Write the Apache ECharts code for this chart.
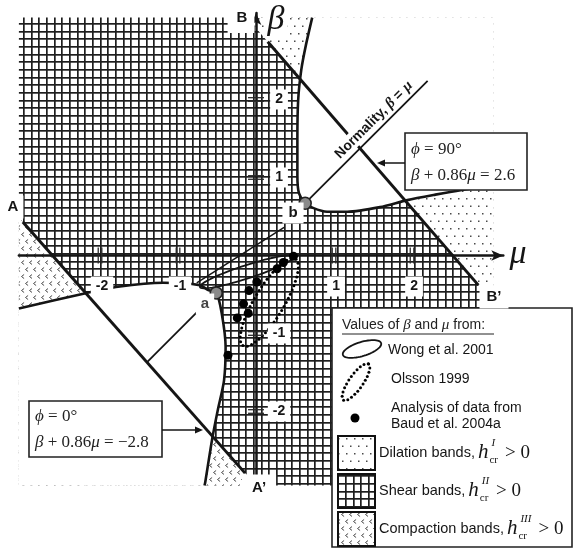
<!DOCTYPE html>
<html>
<head>
<meta charset="utf-8">
<title>Band regimes in the β–μ plane</title>
<script src="https://cdn.jsdelivr.net/npm/echarts/dist/echarts.min.js"></script>
<style>
  html, body { margin: 0; padding: 0; background: #fff; }
  #chart { width: 574px; height: 551px; }
</style>
</head>
<body>
<div id="chart"></div>
<script>
// ---------- values in the (mu, beta) plane ----------
const muAxisRange = [-3.04, 3.17];
const betaAxisRange = [-2.95, 3.11];
const fieldMu = [-3.04, 3.04];
const fieldBeta = [-2.95, 3.05];
const tickValues = [-2, -1, 1, 2];
const tickLabels = ['-2', '-1', '1', '2'];

// phi = 0 deg line (A-A') and phi = 90 deg line (B-B')
const lineAA = [[-2.99, 0.43], [-0.14, -2.79]];
const lineBB = [[0.15, 2.74], [2.85, -0.38]];

// curve through b: upper branch down to b, then right branch
const branchBMu   = [0.72, 0.64, 0.58, 0.54, 0.53, 0.53, 0.55, 0.63, 0.73, 0.91, 1.17, 1.59, 1.94, 2.30, 2.64, 3.04];
const branchBBeta = [3.05, 2.70, 2.38, 1.99, 1.48, 1.03, 0.80, 0.67, 0.61, 0.56, 0.56, 0.62, 0.71, 0.78, 0.84, 0.90];
// curve through a: left branch in to a, then lower branch
const branchAMu   = [-3.04, -2.17, -1.77, -1.19, -0.72, -0.62, -0.51, -0.44, -0.39, -0.41, -0.49, -0.56, -0.65, -0.66];
const branchABeta = [-0.68, -0.48, -0.40, -0.35, -0.38, -0.44, -0.48, -0.74, -1.17, -1.60, -1.98, -2.34, -2.90, -2.95];

const pointA = [-0.51, -0.48];
const pointB = [0.63, 0.67];

// normality directions from a and b, and the chord through the data cloud
const normalB = [[0.63, 0.67], [2.20, 2.24]];
const normalA = [[-0.51, -0.48], [-1.39, -1.36]];
const chordLine = [[-0.76, -0.35], [0.36, 0.36]];

// Baud et al. 2004a
const baudMu   = [0.48, 0.35, 0.27, 0.01, -0.09, -0.16, -0.10, -0.24, -0.36];
const baudBeta = [-0.01, -0.09, -0.17, -0.34, -0.45, -0.62, -0.74, -0.80, -1.28];

// Wong et al. 2001 (solid) and Olsson 1999 (dotted) ranges: centre, semi-axes, tilt (deg)
const wongCentre = [-0.12, -0.21], wongAxes = [0.63, 0.085], wongTilt = 18;
const olssonCentre = [0.17, -0.60], olssonAxes = [0.65, 0.19], olssonTilt = 59;

// ---------- helpers ----------
const SANS = '"Liberation Sans", Arial, sans-serif';
const SERIF = '"Liberation Serif", "Times New Roman", serif';
const INK = '#151515';

const zip = (a, b) => a.map((v, i) => [v, b[i]]);

function clipHalf(poly, p, q, keep) {
  const side = pt => ((q[0] - p[0]) * (pt[1] - p[1]) - (q[1] - p[1]) * (pt[0] - p[0])) * keep;
  const out = [];
  for (let i = 0; i < poly.length; i++) {
    const a = poly[i], b = poly[(i + 1) % poly.length];
    const sa = side(a), sb = side(b);
    if (sa >= 0) out.push(a);
    if ((sa >= 0) !== (sb >= 0)) {
      const t = sa / (sa - sb);
      out.push([a[0] + t * (b[0] - a[0]), a[1] + t * (b[1] - a[1])]);
    }
  }
  return out;
}

function ellipseOutline(c, ax, tiltDeg, n) {
  const t = tiltDeg * Math.PI / 180, pts = [];
  for (let k = 0; k < n; k++) {
    const th = 2 * Math.PI * k / n;
    const x = ax[0] * Math.cos(th), y = ax[1] * Math.sin(th);
    pts.push([c[0] + x * Math.cos(t) - y * Math.sin(t), c[1] + x * Math.sin(t) + y * Math.cos(t)]);
  }
  return pts;
}

// beads placed at even spacing along a closed pixel outline
function beadsAlong(pts, step, r, z) {
  const out = [];
  let carry = 0;
  for (let i = 0; i < pts.length; i++) {
    const a = pts[i], b = pts[(i + 1) % pts.length];
    const len = Math.hypot(b[0] - a[0], b[1] - a[1]);
    let d = carry;
    while (d < len) {
      const t = d / len;
      const bead = { type: 'circle', shape: { cx: a[0] + t * (b[0] - a[0]), cy: a[1] + t * (b[1] - a[1]), r: r }, style: { fill: '#000' } };
      if (z !== undefined) { bead.z = z; bead.silent = true; }
      out.push(bead);
      d += step;
    }
    carry = d - len;
  }
  return out;
}

// fill patterns
function makeCanvas(w, h, draw) {
  const c = document.createElement('canvas');
  c.width = w; c.height = h;
  const g = c.getContext('2d');
  g.fillStyle = '#fff'; g.fillRect(0, 0, w, h);
  draw(g);
  return c;
}
const shearCanvas = makeCanvas(23, 23, g => {
  g.fillStyle = '#1e1e1e';
  [0, 8, 15].forEach(p => { g.fillRect(p, 0, 1.7, 23); g.fillRect(0, p, 23, 1.7); });
});
const dilationCanvas = makeCanvas(16, 15, g => {
  g.fillStyle = '#4a4a4a';
  [[2, 3], [10, 3], [6, 10.5], [14, 10.5]].forEach(([x, y]) => g.fillRect(x, y, 1.5, 1.5));
});
const compactionCanvas = makeCanvas(16, 14, g => {
  g.strokeStyle = '#4a4a4a'; g.lineWidth = 1;
  [[1.5, 3.5], [9.5, 3.5], [5.5, 10.5], [13.5, 10.5]].forEach(([x, y]) => {
    g.beginPath(); g.moveTo(x + 2.6, y - 2); g.lineTo(x, y); g.lineTo(x + 2.6, y + 2); g.stroke();
  });
});
const shearPattern = { image: shearCanvas, repeat: 'repeat' };
const dilationPattern = { image: dilationCanvas, repeat: 'repeat' };
const compactionPattern = { image: compactionCanvas, repeat: 'repeat' };

// ---------- region polygons ----------
const fieldRect = [[fieldMu[0], fieldBeta[0]], [fieldMu[1], fieldBeta[0]], [fieldMu[1], fieldBeta[1]], [fieldMu[0], fieldBeta[1]]];
const regions = [
  { poly: fieldRect, fill: shearPattern },
  { poly: clipHalf(fieldRect, lineBB[0], lineBB[1], 1), fill: dilationPattern },
  { poly: clipHalf(fieldRect, lineAA[0], lineAA[1], -1), fill: compactionPattern },
  { poly: zip(branchBMu, branchBBeta).concat([[fieldMu[1], fieldBeta[1]]]), fill: '#fff' },
  { poly: zip(branchAMu, branchABeta).concat([[fieldMu[0], fieldBeta[0]]]), fill: '#fff' }
];

function lineSeries(data, width, z, extra) {
  return Object.assign({
    type: 'line', data: data, symbol: 'none', silent: true, z: z, animation: false,
    lineStyle: { color: INK, width: width }
  }, extra || {});
}

const labelBox = (text, extra) => Object.assign({
  text: text, font: 'bold 14px ' + SANS, fill: INK, align: 'center', verticalAlign: 'middle',
  backgroundColor: '#fff', padding: [3, 5]
}, extra || {});

// ---------- chart ----------
const chart = echarts.init(document.getElementById('chart'), null, { renderer: 'canvas' });

const series = [
  {
    type: 'custom', coordinateSystem: 'cartesian2d', z: 1, silent: true, animation: false,
    data: regions.map((r, i) => [i, 0]),
    renderItem: (params, api) => {
      const r = regions[params.dataIndex];
      return { type: 'polygon', shape: { points: r.poly.map(p => api.coord(p)) }, style: { fill: r.fill } };
    }
  },
  lineSeries(lineAA, 3, 3),
  lineSeries(lineBB, 3, 3),
  lineSeries(zip(branchBMu, branchBBeta), 2.6, 3, { smooth: 0.25 }),
  lineSeries(zip(branchAMu, branchABeta), 2.6, 3, { smooth: 0.25 }),
  lineSeries(chordLine, 1.5, 3),
  lineSeries(normalA, 1.8, 3),
  // label riding on the normality line from b
  {
    type: 'custom', coordinateSystem: 'cartesian2d', z: 4, silent: true, animation: false,
    data: [[0, 0]],
    renderItem: (params, api) => {
      const p0 = api.coord(normalB[0]), p1 = api.coord(normalB[1]);
      const t = 0.62;
      const x = p0[0] + t * (p1[0] - p0[0]) - 2, y = p0[1] + t * (p1[1] - p0[1]) - 2;
      const ang = Math.atan2(-(p1[1] - p0[1]), p1[0] - p0[0]);
      return {
        type: 'text', x: x, y: y, rotation: ang,
        style: {
          text: '{b|Normality, }{i|β}{b| = }{i|μ}',
          align: 'center', verticalAlign: 'bottom', fill: INK,
          backgroundColor: '#fff', padding: [1, 3, 0, 3],
          rich: {
            b: { font: 'bold 14px ' + SANS, fill: INK },
            i: { font: 'italic bold 15px ' + SERIF, fill: INK }
          }
        }
      };
    }
  },
  lineSeries(normalB, 1.8, 5),
  // data ranges from the literature: solid outline and beaded outline
  {
    type: 'custom', coordinateSystem: 'cartesian2d', z: 6, silent: true, animation: false,
    data: [[0, 0], [1, 0]],
    renderItem: (params, api) => {
      if (params.dataIndex === 0) {
        return {
          type: 'polygon', shape: { points: ellipseOutline(wongCentre, wongAxes, wongTilt, 72).map(p => api.coord(p)) },
          style: { fill: null, stroke: INK, lineWidth: 1.8 }
        };
      }
      const px = ellipseOutline(olssonCentre, olssonAxes, olssonTilt, 120).map(p => api.coord(p));
      return { type: 'group', children: beadsAlong(px, 4.6, 1.5) };
    }
  },
  // double-bar tick marks on both axes
  {
    type: 'custom', coordinateSystem: 'cartesian2d', z: 6, silent: true, animation: false,
    data: tickValues.map(v => [v, 0]),
    renderItem: (params, api) => {
      const v = tickValues[params.dataIndex];
      const px = api.coord([v, 0]), py = api.coord([0, v]);
      const st = { stroke: '#2a2a2a', lineWidth: 1.3 };
      return {
        type: 'group', children: [
          { type: 'line', shape: { x1: px[0] - 1.8, y1: px[1] - 8, x2: px[0] - 1.8, y2: px[1] + 8 }, style: st },
          { type: 'line', shape: { x1: px[0] + 1.8, y1: px[1] - 8, x2: px[0] + 1.8, y2: px[1] + 8 }, style: st },
          { type: 'line', shape: { x1: py[0] - 8, y1: py[1] - 1.8, x2: py[0] + 8, y2: py[1] - 1.8 }, style: st },
          { type: 'line', shape: { x1: py[0] - 8, y1: py[1] + 1.8, x2: py[0] + 8, y2: py[1] + 1.8 }, style: st }
        ]
      };
    }
  },
  // tick labels with white backing
  {
    type: 'custom', coordinateSystem: 'cartesian2d', z: 8, silent: true, animation: false,
    data: tickValues.map(v => [v, 0]),
    renderItem: (params, api) => {
      const i = params.dataIndex, v = tickValues[i];
      const px = api.coord([v, 0]), py = api.coord([0, v]);
      return {
        type: 'group', children: [
          { type: 'text', x: px[0] + 2, y: px[1] + 31, style: labelBox(tickLabels[i]) },
          { type: 'text', x: py[0] + 23, y: py[1], style: labelBox(tickLabels[i]) }
        ]
      };
    }
  },
  {
    type: 'scatter', z: 7, silent: true, animation: false,
    data: zip(baudMu, baudBeta), symbol: 'circle', symbolSize: 9,
    itemStyle: { color: '#000', opacity: 1 }
  },
  {
    type: 'scatter', z: 7, silent: true, animation: false,
    data: [pointA, pointB], symbol: 'circle', symbolSize: 12,
    itemStyle: { color: '#8a8a8a', borderColor: '#222', borderWidth: 1.6, opacity: 1 }
  }
];

// ---------- annotations, boxes and key ----------
const measureCtx = document.createElement('canvas').getContext('2d');
function textWidth(t, font) { measureCtx.font = font; return measureCtx.measureText(t).width; }

const graphic = [];
function addText(x, y, text, font, extra) {
  graphic.push({
    type: 'text', x: x, y: y, z: 60, silent: true,
    style: Object.assign({ text: text, font: font, fill: INK, align: 'left', verticalAlign: 'middle' }, extra || {})
  });
}
function addArrow(x1, y, x2) {
  const dir = Math.sign(x2 - x1);
  graphic.push({ type: 'line', z: 60, silent: true, shape: { x1: x1, y1: y, x2: x2 - dir * 6, y2: y }, style: { stroke: INK, lineWidth: 1.5 } });
  graphic.push({ type: 'polygon', z: 60, silent: true, shape: { points: [[x2, y], [x2 - dir * 8, y - 3.5], [x2 - dir * 8, y + 3.5]] }, style: { fill: INK } });
}
const mathRich = {
  i: { font: 'italic 17px ' + SERIF, fill: '#222' },
  n: { font: '17px ' + SERIF, fill: '#222' }
};

// point and line letters
addText(13, 207, 'A', 'bold 15px ' + SANS, { align: 'center', backgroundColor: '#fff', padding: [4, 5] });
addText(241, 18, 'B', 'bold 15px ' + SANS, { align: 'center', backgroundColor: '#fff', padding: [8, 7, 7, 9] });
addText(259, 488, 'A\u2019', 'bold 15px ' + SANS, { align: 'center', backgroundColor: '#fff', padding: [6, 10] });
addText(494, 297, 'B\u2019', 'bold 15px ' + SANS, { align: 'center', backgroundColor: '#fff', padding: [4, 7] });
addText(205, 304, 'a', 'bold 15px ' + SANS, { align: 'center', fill: '#444', backgroundColor: '#fff', padding: [3, 5] });
addText(293, 213, 'b', 'bold 15px ' + SANS, { align: 'center', backgroundColor: '#fff', padding: [3, 6] });

// axis symbols
addText(276, 20, 'β', 'italic 34px ' + SERIF, { align: 'center', backgroundColor: '#fff', padding: [0, 3] });
addText(518, 254, 'μ', 'italic 34px ' + SERIF, { align: 'center' });

// phi = 90 deg box
graphic.push({ type: 'rect', z: 59, silent: true, shape: { x: 405, y: 133, width: 122, height: 57 }, style: { fill: '#fff', stroke: '#222', lineWidth: 1.6 } });
addText(411, 150, '{i|ϕ}{n| = 90°}', '17px ' + SERIF, { rich: mathRich });
addText(411, 176, '{i|β}{n| + 0.86}{i|μ}{n| = 2.6}', '17px ' + SERIF, { rich: mathRich });
addArrow(405, 163, 377);

// phi = 0 deg box
graphic.push({ type: 'rect', z: 59, silent: true, shape: { x: 29, y: 401, width: 133, height: 56 }, style: { fill: '#fff', stroke: '#222', lineWidth: 1.6 } });
addText(35, 417, '{i|ϕ}{n| = 0°}', '17px ' + SERIF, { rich: mathRich });
addText(35, 443, '{i|β}{n| + 0.86}{i|μ}{n| = \u22122.8}', '17px ' + SERIF, { rich: mathRich });
addArrow(162, 430, 203);

// key
const KEY_FONT = '14px ' + SANS;
graphic.push({ type: 'rect', z: 59, silent: true, shape: { x: 332, y: 308, width: 240, height: 239 }, style: { fill: '#fff', stroke: '#222', lineWidth: 1.6 } });
addText(342, 325, '{n|Values of }{i|β}{n| and }{i|μ}{n| from:}', KEY_FONT, {
  rich: { n: { font: KEY_FONT, fill: '#222' }, i: { font: 'italic 15px ' + SERIF, fill: '#222' } }
});
graphic.push({ type: 'line', z: 60, silent: true, shape: { x1: 342, y1: 334, x2: 494, y2: 334 }, style: { stroke: '#222', lineWidth: 1 } });

function pixelEllipse(cx, cy, rx, ry, tiltDeg, n) {
  const t = -tiltDeg * Math.PI / 180, pts = [];
  for (let k = 0; k < n; k++) {
    const th = 2 * Math.PI * k / n, x = rx * Math.cos(th), y = ry * Math.sin(th);
    pts.push([cx + x * Math.cos(t) - y * Math.sin(t), cy + x * Math.sin(t) + y * Math.cos(t)]);
  }
  return pts;
}
graphic.push({ type: 'polygon', z: 60, silent: true, shape: { points: pixelEllipse(362, 349, 20, 7, 17, 60) }, style: { fill: null, stroke: INK, lineWidth: 1.8 } });
addText(388, 350, 'Wong et al. 2001', KEY_FONT);
beadsAlong(pixelEllipse(356, 382, 22, 7, 55, 90), 4.4, 1.5, 61).forEach(b => graphic.push(b));
addText(391, 379, 'Olsson 1999', KEY_FONT);
graphic.push({ type: 'circle', z: 60, silent: true, shape: { cx: 355, cy: 418, r: 4.5 }, style: { fill: '#000' } });
addText(391, 408, 'Analysis of data from', KEY_FONT);
addText(391, 424, 'Baud et al. 2004a', KEY_FONT);

const ROW_FONT = '14.5px ' + SANS;
const keyRows = [
  { y: 436, label: 'Dilation bands,', sup: 'I', fill: dilationPattern },
  { y: 474, label: 'Shear bands,', sup: 'II', fill: shearPattern },
  { y: 512, label: 'Compaction bands,', sup: 'III', fill: compactionPattern }
];
keyRows.forEach(r => {
  graphic.push({ type: 'rect', z: 60, silent: true, shape: { x: 338, y: r.y, width: 37, height: 34 }, style: { fill: r.fill, stroke: '#111', lineWidth: 2 } });
  const mid = r.y + 17;
  addText(379, mid, r.label, ROW_FONT);
  const hx = 379 + textWidth(r.label, ROW_FONT) + 3;
  addText(hx, mid - 1, 'h', 'italic 21px ' + SERIF);
  const sx = hx + textWidth('h', 'italic 21px ' + SERIF) + 1;
  addText(sx, mid + 7, 'cr', '11px ' + SERIF);
  addText(sx + 2, mid - 10, r.sup, 'italic 11px ' + SERIF);
  const gx = sx + Math.max(textWidth('cr', '11px ' + SERIF), textWidth(r.sup, 'italic 11px ' + SERIF) + 2) + 7;
  addText(gx, mid, '> 0', '19px ' + SERIF);
});

chart.setOption({
  animation: false,
  backgroundColor: '#fff',
  grid: { left: 18.9, right: 70.7, top: 12.9, bottom: 65.4, containLabel: false, outerBoundsMode: 'none' },
  xAxis: {
    type: 'value', min: muAxisRange[0], max: muAxisRange[1], z: 5,
    axisLine: { show: true, onZero: true, symbol: ['none', 'arrow'], symbolSize: [8, 12], lineStyle: { color: INK, width: 2.5 } },
    axisTick: { show: false }, axisLabel: { show: false }, splitLine: { show: false }
  },
  yAxis: {
    type: 'value', min: betaAxisRange[0], max: betaAxisRange[1], z: 5,
    axisLine: { show: true, onZero: true, symbol: ['none', 'arrow'], symbolSize: [8, 12], lineStyle: { color: INK, width: 2.5 } },
    axisTick: { show: false }, axisLabel: { show: false }, splitLine: { show: false }
  },
  series: series,
  graphic: graphic
});
</script>
</body>
</html>
